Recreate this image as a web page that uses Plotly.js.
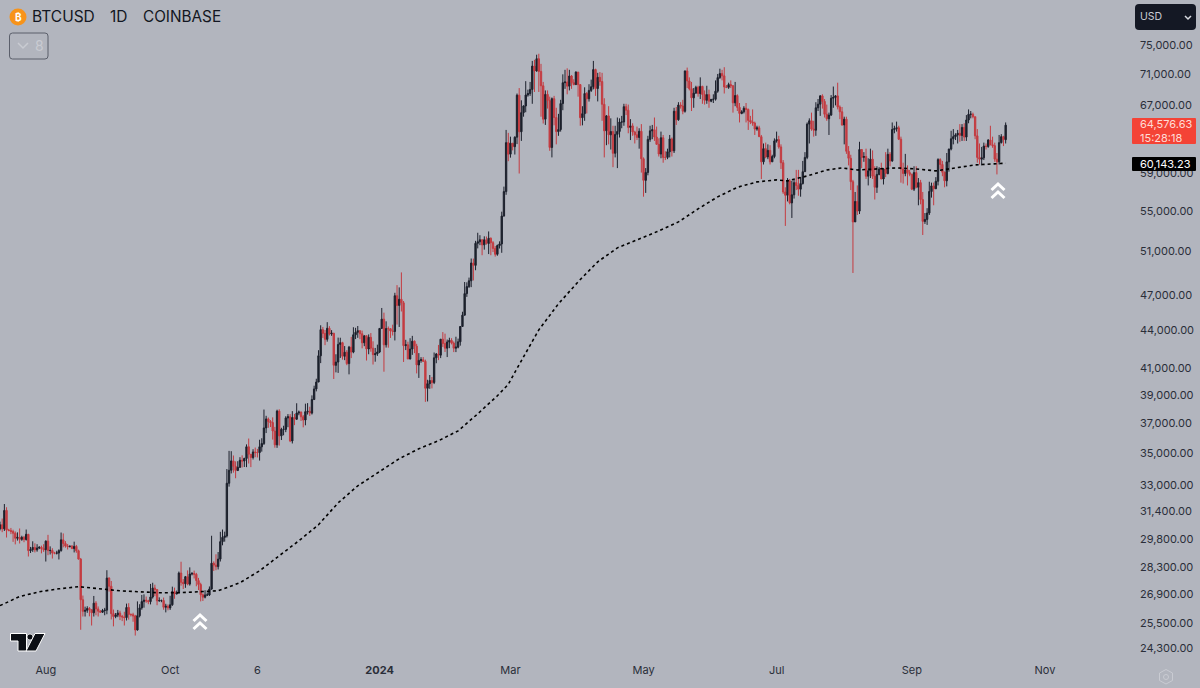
<!DOCTYPE html>
<html><head><meta charset="utf-8">
<script src="https://cdn.plot.ly/plotly-3.0.1.min.js"></script>
<style>html,body{margin:0;padding:0;background:#b2b5be;overflow:hidden}#c{width:1200px;height:688px}</style>
</head><body><div id="c"></div>
<script>
const firstDay = '2023-07-11';
const firstOpen = 30400;
const closes = [30620,30390,31450,30320,30300,30240,30140,29860,29910,29800,29910,29790,30080,29180,29230,29350,29220,29320,29360,29280,29230,
29700,29180,29190,29050,29040,29050,29180,29770,29570,29430,29400,29420,29290,29410,29170,28720,26620,26050,26100,26190,26130,25980,26450,26170,26060,26010,26090,26110,27720,27300,25940,
25800,25870,25970,25810,25780,25750,26240,25900,25890,25830,25160,25840,26220,26530,26600,26570,26530,26760,27210,27130,26570,26580,26580,26250,26300,26220,26370,27030,26910,26970,
27980,27500,27430,27790,27410,27930,27960,27920,27590,27390,26870,26750,26860,26860,27160,28500,28400,28320,28720,29670,29910,29990,33090,33900,34500,34150,33890,34090,34540,34490,34660,
35420,34930,34720,35080,35040,35040,35420,35640,36690,37310,37130,37060,36480,35550,37860,36150,36590,36590,37380,37460,35810,37410,37290,37720,37790,37460,37240,37820,37850,37720,
38690,39460,39970,41980,44080,43770,43290,44190,43720,43790,41240,41490,42880,43020,41940,42260,41370,42660,42270,43660,43860,43990,43740,43010,43580,42520,43450,42580,42070,42140,42280,
44180,44950,42850,44170,44160,43970,43930,46960,46120,46650,46340,42780,42850,41730,42510,43140,42740,41270,41620,41670,41550,39510,39850,40080,39940,41820,42120,42030,43300,42950,42580,
43080,43200,42990,42580,42660,43090,44340,45290,47150,47770,48290,49920,49700,51790,51940,52130,51640,52130,51780,52280,51850,51300,50740,51570,51730,54490,57040,62500,61170,
62430,62030,63140,68290,63780,66100,66930,68310,68500,69020,72100,71450,73100,71390,69500,65300,68390,67600,61940,67840,65500,63800,64050,67230,69900,69990,69450,70780,69900,69650,71300,
69650,65480,65970,68500,67840,68900,69370,71630,69140,70600,70050,67140,63900,65700,63420,63800,61270,63470,63820,64950,64960,66840,66400,64300,64480,63760,63420,63110,63840,60640,
58250,59120,62880,63890,64020,63160,62300,61190,63070,60800,60800,61450,62930,61550,66270,65230,67050,66920,66270,71450,70130,69120,67950,68550,69290,68500,69420,68380,67640,68360,67530,
67760,67770,68800,70570,71100,70800,69350,69300,69650,69500,67320,68240,66750,66000,66200,66650,66500,65150,64960,64830,64100,64250,63200,60300,61800,60850,61600,60300,60900,62700,
62850,62000,60200,57000,56650,58200,55850,56700,58000,57700,57300,57900,59200,60800,64700,65100,64100,63970,66700,67150,68200,67500,65900,65350,65800,67900,68000,68200,66800,66200,64600,
65300,61500,60700,58100,53900,56000,55000,61700,60800,60900,58700,59300,60600,58700,57500,58900,59500,58400,59500,59000,61150,60400,64050,64150,64250,62900,59500,59000,59400,59100,58900,
57300,59100,57500,58000,56200,53950,54150,54800,57050,57650,57350,58150,60550,60000,59150,58200,60300,61750,62950,63200,63400,63600,63350,64300,63150,65200,65900,65900,65600,63300,
60800,60600,60750,62100,62050,62800,62250,62150,60600,60300,62500,63200,62850,64576];
const highs = [30800,30980,31830,31640,30390,30440,30340,30240,30190,30410,30000,29990,30350,30100,29380,29690,29580,29530,29420,29450,29530,
29740,30050,29410,29310,29110,29170,29250,30180,30130,29700,29540,29450,29480,29670,29490,29230,28780,26830,26280,26300,26260,26140,26810,26550,26290,26110,26170,26220,28130,27760,27570,
26140,25970,26120,26080,25880,26030,26430,26450,25950,25980,25880,26540,26400,26860,26890,26780,26620,27420,27480,27380,27150,26740,26630,26730,26420,26390,26820,27280,27230,27080,
28060,28580,27670,27830,28120,28280,28030,28110,27990,27730,27480,26940,27100,26980,27290,30000,28600,28980,29100,30220,30350,30230,33980,35150,35130,34850,34470,34480,34740,34860,34700,
35580,35970,34940,35260,35370,35280,35890,35990,37970,37530,37410,37230,37420,36760,37960,37990,36700,36840,37500,37650,37650,37860,37660,38420,37900,37830,37580,38390,38430,38170,
38990,39700,40220,42420,44440,44300,44050,44700,44370,44040,43790,42100,43430,43420,43090,42750,42430,42760,43490,44280,44230,44380,44020,44000,43590,43600,43690,43800,43130,42600,42860,
44190,45900,45500,44770,44340,44210,44490,47220,47900,47700,49050,46500,43250,43100,43380,43570,43200,42930,42190,41870,41880,41680,40140,40500,40350,42240,42200,42840,43310,43880,43750,
43270,43420,43380,43120,43500,43350,44380,45580,48180,48150,48580,50340,50330,52030,52820,52580,52180,52470,52450,52950,52360,52000,51530,51670,51980,54940,57570,64000,63650,
63200,62430,63240,68500,69200,67640,67000,70100,69000,70000,72800,72950,73650,73780,72400,70000,68900,68900,68100,68000,68200,66700,65950,67700,71000,71600,71800,71600,70900,70350,71400,
71300,69700,66900,69300,68700,69700,70300,72800,71750,71200,71300,71200,67900,65800,66900,65400,64500,64500,65500,65400,65700,67200,67200,67100,65300,64800,63900,64400,64200,64700,
60800,59600,63300,64500,64600,65500,64400,63000,63800,63400,61500,61800,63400,63100,66700,66800,67400,67400,67700,71500,71900,70600,70000,69200,69500,69500,70600,69500,68900,69500,69000,
67800,68400,70200,71050,71750,71600,71950,69600,69900,70200,69600,70000,68400,67300,66400,66900,67300,66600,65700,66500,65000,64500,64500,63400,62400,62500,62300,62200,61100,63000,
63800,63300,62300,60500,57500,58500,58400,58200,58300,59400,59400,58600,60400,61400,64900,65400,66100,65100,67400,67800,68300,68400,67800,67100,66100,68300,69400,68300,69900,67000,66800,
65600,65600,62100,61100,58300,57000,57700,62600,61700,61400,61800,60700,61800,61600,59800,59800,59700,60200,59600,61400,61800,61400,64900,64500,65000,64500,63200,60200,61200,59900,59400,
59000,59800,59800,58500,58300,57000,54800,55300,58100,58000,58000,58600,60700,60700,60400,59200,61300,61800,63900,64100,63600,64000,64700,64700,64800,65800,66500,66300,66100,65600,
64100,62400,62000,62500,62400,62900,64500,63200,62500,61300,63400,63500,63300,64900];
const lows = [30300,30200,30270,29900,30250,30090,29660,29520,29730,29570,29720,29640,29730,28860,29050,29110,29080,29120,29260,29030,29110,
28590,28930,28970,28750,28980,28970,28700,29120,29360,29340,29240,29350,29260,29080,29060,28700,25170,25800,25800,25980,25810,25370,25800,25860,25800,25980,25970,25860,25910,27030,25660,
25330,25720,25770,25630,25580,25370,25610,25650,25800,25550,24900,25130,25760,26130,26230,26470,26400,26390,26680,26800,26350,26520,26500,26130,26000,26100,26120,26320,26670,26890,
26960,27330,27160,27220,27350,27330,27860,27700,27300,27110,26540,26560,26690,26810,26810,27120,28090,28130,28170,28590,29470,29670,29900,32880,33700,33750,33400,33850,34050,34080,34110,
34100,34330,34100,34590,34740,34720,34520,35100,35540,36340,36700,36750,35900,35360,35350,35500,35870,36190,36400,36740,35730,35640,36880,37250,37570,37170,36730,36870,37620,37520,
37620,38650,39280,39970,41410,43400,42820,43100,43600,43570,40200,40700,40660,41810,41680,41640,41250,40550,41800,42180,43310,43410,43300,42570,42740,41610,42100,42300,41300,41520,41970,
42190,44170,40750,42630,42620,43400,43600,43200,44500,44300,45600,41500,42430,41720,41700,42050,42190,40620,40280,41440,41500,38520,38550,39470,39500,39820,41400,41640,41800,42680,42280,
41880,42580,42880,42270,42270,42570,42780,44330,45260,46860,47650,47720,48320,49250,51300,51610,50650,51180,51670,50760,50650,50950,50520,50600,51290,50880,54450,56700,60370,
60770,61600,61130,62330,59000,62700,65600,66150,68100,68200,67200,68700,71350,68700,65600,64770,64600,66600,61550,60800,64550,62300,63300,63800,66400,69100,68400,68900,69100,69570,69600,
68100,64500,64550,65100,66000,67480,68700,69040,68200,67500,69500,65100,60800,62200,62300,61700,59700,60800,59600,63100,64200,64500,65800,63600,62800,63300,62400,62800,61800,59100,
56500,56900,58800,62600,62900,62700,62300,60900,60700,60200,60500,60600,60800,60900,61300,64600,65100,66600,65900,66100,69200,68900,66300,66700,68500,68100,67800,67200,67100,67200,66700,
67400,67300,67600,68600,70400,70200,68500,69200,69100,69200,66100,66900,66300,64900,65900,66000,64900,64000,64700,64500,63400,63900,63200,58400,60000,60700,60600,60000,60300,60700,
62500,61800,59500,56800,53500,56000,55700,54300,56300,57200,56600,56500,57800,59200,60600,62400,63900,63200,63300,66300,65700,66600,65500,65100,63400,65700,66700,67000,66500,65300,64500,
62300,61200,59900,57200,49000,53900,54600,54700,59600,60300,58400,57700,58500,58400,56200,56900,58800,58400,57800,58600,58900,59800,60300,63600,63800,62800,58000,57900,58700,57700,58700,
57200,57100,57400,55600,55700,52600,53700,53600,54600,56400,55600,57300,57700,59500,58700,57500,57600,59200,61600,62300,62800,62400,62600,62700,62700,62700,64800,65400,65400,62900,
60200,60000,59900,60500,61700,61900,62200,61900,60300,58900,60000,62400,62100,62400];
const maDates = ['2023-07-11','2023-07-20','2023-07-29','2023-08-07','2023-08-16','2023-08-26','2023-09-04','2023-09-13','2023-09-22','2023-10-01','2023-10-10','2023-10-19','2023-10-29','2023-11-07','2023-11-16','2023-11-25','2023-12-04','2023-12-13','2023-12-22','2024-01-01','2024-01-10','2024-01-19','2024-01-28','2024-02-06','2024-02-15','2024-02-24','2024-02-29','2024-03-04','2024-03-14','2024-03-23','2024-04-01','2024-04-10','2024-04-19','2024-04-28','2024-05-07','2024-05-17','2024-05-26','2024-06-04','2024-06-13','2024-06-22','2024-07-01','2024-07-06','2024-07-15','2024-07-24','2024-07-31','2024-08-07','2024-08-16','2024-08-25','2024-09-03','2024-09-12','2024-09-21','2024-09-30','2024-10-14'];
const maValues = [26330,26780,27020,27170,27280,27170,27070,27020,26970,26970,27020,27070,27480,28100,28900,29720,30620,31900,32930,33810,34640,35290,35820,36490,37670,38960,39800,41000,44060,46260,48200,50030,51350,52120,52910,53900,55230,56480,57500,58080,58300,58190,58730,59390,59620,59390,59500,59620,59500,59290,59620,59950,60143];
const yTicks = [75000,71000,67000,59000,55000,51000,47000,44000,41000,39000,37000,35000,33000,31400,29800,28300,26900,25500,24300];
const xTickDates = ['2023-08-01','2023-09-27','2023-11-06','2024-01-01','2024-03-01','2024-05-01','2024-07-01','2024-09-01','2024-11-01'];
const xTickLabels = ['Aug','Oct','6','<b>2024</b>','Mar','May','Jul','Sep','Nov'];
const xRange = ['2023-07-11','2024-12-10'];
const yRange = [23700, 81570];

const dates = closes.map((_, i) => new Date(Date.parse(firstDay + 'T00:00:00Z') + i * 864e5).toISOString().slice(0, 10));
const opens = closes.map((_, i) => i ? closes[i - 1] : firstOpen);

const W = 1200, H = 688, PW = 1130, PH = 662;
const px = x => x / PW, py = y => 1 - y / PH;
const P = s => s.replace(/(-?[\d.]+),(-?[\d.]+)/g, (_, a, b) => px(+a) + ',' + py(+b));
const rr = (x0, y0, x1, y1, r) => P(`M${x0 + r},${y0} L${x1 - r},${y0} Q${x1},${y0} ${x1},${y0 + r} L${x1},${y1 - r} Q${x1},${y1} ${x1 - r},${y1} L${x0 + r},${y1} Q${x0},${y1} ${x0},${y1 - r} L${x0},${y0 + r} Q${x0},${y0} ${x0 + r},${y0} Z`);
const shape = (path, o) => Object.assign({type: 'path', xref: 'paper', yref: 'paper', layer: 'above', path, line: {width: 0}}, o);
const circle = (cx, cy, r, o) => Object.assign({type: 'circle', xref: 'paper', yref: 'paper', layer: 'above', x0: px(cx - r), x1: px(cx + r), y0: py(cy + r), y1: py(cy - r), line: {width: 0}}, o);
const chev = (x, y) => shape(P(`M${x - 6.5},${y + 6} L${x},${y} L${x + 6.5},${y + 6} M${x - 6.5},${y + 14} L${x},${y + 8} L${x + 6.5},${y + 14}`), {line: {color: '#ffffff', width: 3}});
const shapes = [
  circle(18, 17, 8.5, {fillcolor: '#f7931a'}),
  shape(rr(9.5, 33, 48, 59, 3), {line: {color: '#5b5f6b', width: 1}}),
  shape(P('M18,43 L23,48 L28,43'), {line: {color: '#c9cbd2', width: 1.5}}),
  shape(rr(1135, 4, 1196, 30, 4), {fillcolor: '#141824'}),
  shape(P('M1185,16 L1188,19 L1191,16'), {line: {color: '#d8dae0', width: 1.5}}),
  shape(rr(1132, 118, 1196, 144, 1), {fillcolor: '#f44336'}),
  shape(rr(1132, 157, 1196, 171, 1), {fillcolor: '#000000'}),
  chev(200, 615), chev(998, 184),
  shape(P('M10.5,633.5 L26.5,633.5 L26.5,651 L18,651 L18,641 L10.5,641 Z'), {fillcolor: '#0b0e14', line: {color: '#ffffff', width: 1}}),
  circle(30, 637, 3, {fillcolor: '#0b0e14', line: {color: '#ffffff', width: 0.7}}),
  shape(P('M35,633.5 L45,633.5 L36,651 L26,651 Z'), {fillcolor: '#0b0e14', line: {color: '#ffffff', width: 1}}),
  shape(P('M1166,669.5 L1172.5,673 L1172.5,680.5 L1166,684 L1159.5,680.5 L1159.5,673 Z'), {line: {color: '#c9cbd2', width: 1}}),
  circle(1166, 677, 2.5, {line: {color: '#c9cbd2', width: 1}})
];
const note = (x, y, text, size, color, anchor, extra) => Object.assign({xref: 'paper', yref: 'paper', x: px(x), y: py(y), text, showarrow: false, xanchor: anchor || 'left', yanchor: 'middle', font: {family: 'Inter, Roboto, sans-serif', size, color}}, extra || {});
const annotations = [
  note(18, 17.5, '<b>₿</b>', 10, '#ffffff', 'center'),
  note(30, 17, 'BTCUSD', 15.5, '#131722'),
  note(108, 17, '1D', 15.5, '#131722'),
  note(141, 17, 'COINBASE', 15.3, '#131722'),
  note(33, 46, '8', 14, '#c9cbd2'),
  note(1138, 17, 'USD', 10.5, '#c9cbd2'),
  note(1137.5, 131, '64,576.63<br>15:28:18', 11, '#ffdcd6', 'left', {align: 'left'}),
  note(1137.5, 164, '60,143.23', 11, '#ffffff')
];
const traces = [
  {type: 'candlestick', x: dates, open: opens, high: highs, low: lows, close: closes,
   increasing: {line: {color: '#1c202c', width: 1}, fillcolor: '#1c202c'},
   decreasing: {line: {color: '#c43b40', width: 1}, fillcolor: '#c43b40'},
   whiskerwidth: 0, hoverinfo: 'skip', showlegend: false},
  {type: 'scatter', mode: 'lines', x: maDates, y: maValues, line: {color: '#000000', width: 1.6, dash: 'dot'}, hoverinfo: 'skip', showlegend: false}
];
const layout = {
  width: W, height: H, paper_bgcolor: '#b2b5be', plot_bgcolor: '#b2b5be', showlegend: false,
  margin: {l: 0, r: W - PW, t: 0, b: H - PH, pad: 0}, boxgap: 0.12,
  font: {family: 'Inter, Roboto, sans-serif', color: '#2a2e39', size: 11},
  xaxis: {type: 'date', range: xRange, rangeslider: {visible: false}, showgrid: false, zeroline: false, showline: false, ticks: '',
          tickmode: 'array', tickvals: xTickDates, ticktext: xTickLabels, tickfont: {size: 11, color: '#2a2e39'}},
  yaxis: {type: 'log', side: 'right', range: yRange.map(Math.log10), showgrid: false, zeroline: false, showline: false, ticks: '',
          tickmode: 'array', tickvals: yTicks, ticktext: yTicks.map(v => v.toLocaleString('en-US', {minimumFractionDigits: 2})),
          tickfont: {size: 11, color: '#2a2e39'}, ticklabelstandoff: 9},
  shapes, annotations
};
Plotly.newPlot('c', traces, layout, {displayModeBar: false, staticPlot: true});
</script></body></html>
